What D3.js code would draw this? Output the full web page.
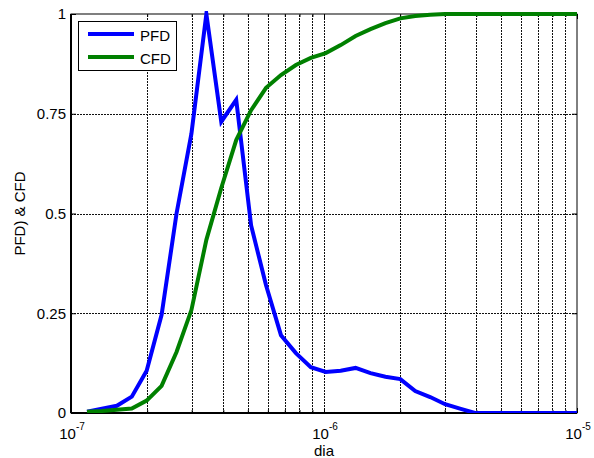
<!DOCTYPE html>
<html>
<head>
<meta charset="utf-8">
<script src="https://cdn.jsdelivr.net/npm/d3@7"></script>
<style>
  html, body { margin: 0; padding: 0; background: #fff; }
  svg { display: block; font-family: "Liberation Sans", Arial, sans-serif; }
</style>
</head>
<body>
<svg id="chart" width="594" height="458"></svg>
<script>
// Particle diameters (m)
const diameters = [
  1.157e-7, 1.325e-7, 1.518e-7, 1.739e-7, 1.991e-7, 2.281e-7, 2.613e-7, 2.992e-7,
  3.428e-7, 3.926e-7, 4.498e-7, 5.151e-7, 5.901e-7, 6.759e-7, 7.743e-7, 8.869e-7,
  1.016e-6, 1.164e-6, 1.333e-6, 1.527e-6, 1.749e-6, 2.003e-6, 2.294e-6, 2.628e-6,
  3.010e-6, 3.447e-6, 3.949e-6, 4.523e-6, 5.182e-6, 5.934e-6, 6.798e-6, 7.785e-6,
  8.922e-6, 1.022e-5
];
// Normalised particle frequency distribution
const pfd = [
  0.003, 0.011, 0.018, 0.041, 0.106, 0.246, 0.50, 0.70,
  1.00, 0.73, 0.785, 0.47, 0.32, 0.195, 0.15, 0.115,
  0.103, 0.106, 0.113, 0.10, 0.091, 0.085, 0.055, 0.04,
  0.022, 0.011, 0, 0, 0, 0, 0, 0,
  0, 0
];
// Cumulative frequency distribution
const cfd = [
  0.003, 0.005, 0.008, 0.011, 0.031, 0.068, 0.153, 0.258,
  0.434, 0.564, 0.684, 0.759, 0.815, 0.847, 0.872, 0.89,
  0.902, 0.922, 0.945, 0.962, 0.977, 0.989, 0.995, 0.998,
  1, 1, 1, 1, 1, 1, 1, 1,
  1, 1
];
const yTicks = [0, 0.25, 0.5, 0.75, 1];
const yTickLabels = ["0", "0.25", "0.5", "0.75", "1"];
const xMajor = [1e-7, 1e-6, 1e-5];
const xMajorExp = ["-7", "-6", "-5"];
const xMinor = [2e-7, 3e-7, 4e-7, 5e-7, 6e-7, 7e-7, 8e-7, 9e-7,
                2e-6, 3e-6, 4e-6, 5e-6, 6e-6, 7e-6, 8e-6, 9e-6];
const seriesNames = ["PFD", "CFD"];
const seriesColors = ["#0000ff", "#008000"];

const svg = d3.select("#chart");
const L = 71, R = 577, T = 14, B = 413;
const W = R - L, H = B - T;

const x = d3.scaleLog().domain([1e-7, 1e-5]).range([L, R]);
const y = d3.scaleLinear().domain([0, 1]).range([B, T]);

svg.append("defs").append("clipPath").attr("id", "plotclip")
  .append("rect").attr("x", L).attr("y", T - 3).attr("width", W).attr("height", H + 3);

// dotted grid
const gridX = svg.append("g").attr("transform", `translate(0,${B})`)
  .call(d3.axisBottom(x).tickValues(xMinor.concat([1e-6])).tickSize(-H).tickFormat(""));
const gridY = svg.append("g").attr("transform", `translate(${L},0)`)
  .call(d3.axisLeft(y).tickValues([0.25, 0.5, 0.75]).tickSize(-W).tickFormat(""));
[gridX, gridY].forEach(g => {
  g.select(".domain").remove();
  g.selectAll(".tick line").attr("stroke", "#111").attr("stroke-width", 1)
    .attr("stroke-dasharray", "2,1").attr("shape-rendering", "crispEdges");
});

// inward tick marks on all four sides
function tickStyle(g) {
  g.select(".domain").remove();
  g.selectAll(".tick line").attr("stroke", "#000").attr("stroke-width", 1);
}
svg.append("g").attr("transform", `translate(0,${B})`)
  .call(d3.axisBottom(x).tickValues(xMinor).tickSize(-3).tickFormat("")).call(tickStyle);
svg.append("g").attr("transform", `translate(0,${B})`)
  .call(d3.axisBottom(x).tickValues(xMajor).tickSize(-5).tickFormat("")).call(tickStyle);
svg.append("g").attr("transform", `translate(0,${T})`)
  .call(d3.axisTop(x).tickValues(xMinor).tickSize(-3).tickFormat("")).call(tickStyle);
svg.append("g").attr("transform", `translate(0,${T})`)
  .call(d3.axisTop(x).tickValues(xMajor).tickSize(-5).tickFormat("")).call(tickStyle);
svg.append("g").attr("transform", `translate(${R},0)`)
  .call(d3.axisRight(y).tickValues(yTicks).tickSize(-5).tickFormat("")).call(tickStyle);

const yAxis = svg.append("g").attr("transform", `translate(${L},0)`)
  .call(d3.axisLeft(y).tickValues(yTicks).tickSize(-5).tickPadding(5)
    .tickFormat((d, i) => yTickLabels[i]));
yAxis.select(".domain").remove();
yAxis.selectAll(".tick line").attr("stroke", "#000");
yAxis.selectAll(".tick text").attr("font-size", 15).attr("fill", "#000")
  .attr("font-family", "Liberation Sans, Arial, sans-serif");

// box
svg.append("rect").attr("x", L).attr("y", T).attr("width", W).attr("height", H)
  .attr("fill", "none").attr("stroke", "#000").attr("stroke-width", 1);
svg.append("line").attr("x1", L).attr("x2", L).attr("y1", T).attr("y2", B)
  .attr("stroke", "#000").attr("stroke-width", 2);
svg.append("line").attr("x1", L).attr("x2", R).attr("y1", B).attr("y2", B)
  .attr("stroke", "#000").attr("stroke-width", 2);

// x tick labels: 10^n
xMajor.forEach((v, i) => {
  const t = svg.append("text").attr("x", x(v) + 1).attr("y", 438.5)
    .attr("text-anchor", "middle").attr("font-size", 15).attr("fill", "#000");
  t.append("tspan").text("10");
  t.append("tspan").attr("dy", -9).attr("font-size", 10).text(xMajorExp[i]);
});

// axis titles
svg.append("text").attr("x", (L + R) / 2).attr("y", 456).attr("text-anchor", "middle")
  .attr("font-size", 15).attr("fill", "#000").text("dia");
svg.append("text").attr("transform", `translate(24.5,${(T + B) / 2}) rotate(-90)`)
  .attr("text-anchor", "middle").attr("font-size", 15).attr("fill", "#000").text("PFD) & CFD");

// series lines
const line = d3.line().x((d, i) => x(diameters[i])).y(d => y(d));
const plot = svg.append("g").attr("clip-path", "url(#plotclip)");
[pfd, cfd].forEach((s, k) => {
  plot.append("path").datum(s).attr("d", line).attr("fill", "none")
    .attr("stroke", seriesColors[k]).attr("stroke-width", 4)
    .attr("stroke-linejoin", "miter").attr("stroke-miterlimit", 10);
});

// legend
const lg = svg.append("g");
lg.append("rect").attr("x", 78.5).attr("y", 21.5).attr("width", 98).attr("height", 49)
  .attr("fill", "#fff").attr("stroke", "#000").attr("stroke-width", 1);
seriesNames.forEach((n, k) => {
  const cy = 34 + k * 23;
  lg.append("line").attr("x1", 88).attr("x2", 134).attr("y1", cy).attr("y2", cy)
    .attr("stroke", seriesColors[k]).attr("stroke-width", 4);
  lg.append("text").attr("x", 140).attr("y", cy + 6.5).attr("font-size", 15)
    .attr("fill", "#000").text(n);
});
</script>
</body>
</html>
